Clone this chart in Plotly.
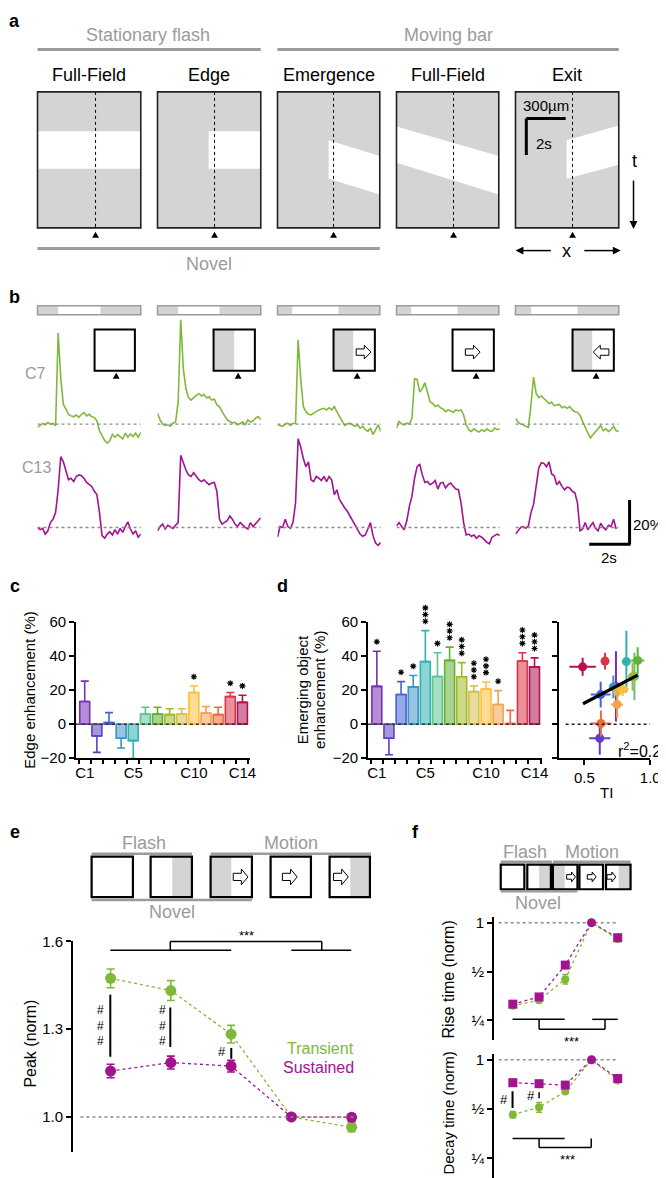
import plotly.graph_objects as go

W, H = 666, 1178
FONT = "Liberation Sans, Arial, Helvetica, sans-serif"

# ------------------------------------------------------------------ data
# panel b: calcium responses (dF/F, %) sampled every 0.125 s over 5 s
time_s = [0.0, 0.125, 0.25, 0.375, 0.5, 0.625, 0.75, 0.875, 1.0, 1.125, 1.25, 1.375,
          1.5, 1.625, 1.75, 1.875, 2.0, 2.125, 2.25, 2.375, 2.5, 2.625, 2.75, 2.875,
          3.0, 3.125, 3.25, 3.375, 3.5, 3.625, 3.75, 3.875, 4.0, 4.125, 4.25, 4.375,
          4.5, 4.625, 4.75, 4.875, 5.0]

c7_flash_full = [-1.5, -0.7, 0.3, -0.3, 0.7, 0, 0.3, -0.7, 41, 20.7, 8.9, 6.7, 4.4, 3.7, 3.3, 4.1,
                 3.0, 4.4, 5.2, 3.7, 4.4, 3.3, 3.0, 1.5, -3.0, -5.2, -7.4, -8.6, -7.4, -4.7, -5.9,
                 -4.7, -5.6, -6.7, -4.1, -5.9, -4.4, -5.6, -4.1, -5.9, -3.7]
c7_flash_edge = [4.9, 1.9, 0, -0.6, -0.3, -1.0, 0.4, 0.9, 10, 47, 24.9, 16, 11.9, 10.8, 11.9, 12.7,
                 13.8, 12.7, 13.3, 11.9, 12.3, 10.8, 11.3, 8.6, 7.9, 5.6, 3.4, 1.9, 1.2, 0.4, 0.9,
                 -0.3, 0.3, 0.9, -0.3, 1.9, 0.9, 1.5, 2.7, 3.4, 1.9]
c7_emergence = [-0.3, -0.6, -1.0, 0, 0.4, -0.6, 0.3, 0.4, 38, 20.4, 7.9, 5.6, 4.4, 4.1, 4.9, 5.6,
                6.4, 6.8, 7.1, 6.4, 7.4, 6.4, 7.9, 5.6, 3.4, 1.2, -0.6, 0, 0.4, -0.3, -1.0, -0.3,
                -1.8, -1.0, -2.5, -3.3, -1.8, -4.7, -2.5, -0.3, -3.3]
c7_moving_full = [-1.8, 1.2, 0, -0.3, 0.4, 0, 2.7, 20.4, 20.1, 14.5, 16, 18.7, 14.5, 10.1, 9.3, 7.9,
                  8.6, 7.4, 6.8, 5.6, 6.4, 5.9, 5.3, 6.4, 5.9, 6.4, 4.1, -0.3, -2.5, -3.3, -2.1,
                  -3.0, -3.6, -2.5, -3.3, -2.1, -3.0, -3.3, -1.8, -2.5, -2.1]
c7_exit = [2.7, 0.9, 0, -0.3, -1.0, -1.5, 8.6, 21.2, 13.8, 11.9, 12.7, 11.6, 10.4, 9.3, 9.8, 8.3,
           8.6, 8.9, 7.4, 7.9, 7.1, 7.9, 6.4, 5.6, 5.3, 3.9, 1.2, -1.8, -4.0, -6.2, -4.7, -3.3,
           -1.8, -0.6, -3.0, -2.1, -3.3, -2.5, -1.0, -3.0, -3.3]
c13_flash_full = [0, -1.0, -0.4, -3.0, -1.5, 2.2, 3.7, 6.7, 17, 31.9, 29.6, 25.2, 21.5, 22.2, 20.7,
                  23.0, 23.7, 23.3, 22.2, 20.3, 19.3, 18.5, 16.3, 14.8, 6.7, -3.7, -4.9, -3.0, -1.9,
                  -3.4, -1.0, -3.0, -0.4, -2.2, 0.4, 2.5, -0.7, -3.0, -1.5, -4.4, -3.0]
c13_flash_edge = [-1.5, 0.4, 1.5, -0.7, 1.0, 0.4, -0.4, 1.0, 2.2, 32.6, 28.9, 25.9, 23.7, 23.0, 24.7,
                  23.3, 21.5, 20.7, 21.5, 20.3, 19.3, 20.0, 20.3, 16.3, 3.7, 1.5, 2.2, 3.0, 5.2, 3.7,
                  1.5, 0.4, 2.2, 1.0, 0, -0.7, 2.2, 0.4, 1.5, 3.0, 4.4]
c13_emergence = [-4.4, 0.4, 0, 3.7, 0.4, -0.4, 2.2, 11.1, 40, 36.3, 31.1, 27.4, 29.6, 21.5, 20.7,
                 23.0, 22.2, 21.2, 23.0, 20.7, 23.0, 21.5, 14.8, 17, 12.6, 10.4, 8.9, 7.4, 5.2, 3.7,
                 1.5, -0.7, -3.0, -4.0, -3.4, -0.7, 2.2, -3.7, -7.0, -8.1, -6.7]
c13_moving_full = [0.7, 2.2, 0.4, -1.0, 3.0, 9.6, 14.1, 22.2, 27.4, 28.6, 23.7, 20.3, 20.7, 19.3, 20,
                   21.2, 17.3, 20, 20.3, 17.8, 19.3, 20, 18.5, 17.3, 17, 11.1, 2.2, -3.4, -3.0, -4.0,
                   -3.4, -4.9, -3.7, -4.4, -5.5, -6.7, -7.4, -4.4, -3.7, -3.0, -3.7]
c13_exit = [-3.0, -1.5, 0, 0.4, -0.4, 0.7, 6.7, 10.4, 18.5, 26.7, 29.2, 28.9, 27.4, 29.6, 24.1, 23.3,
            19.3, 20.7, 18.5, 17.0, 18.2, 17.8, 16.3, 15.6, 11.1, -1.5, -0.7, 2.2, -1.0, 0.4, 2.2,
            -0.4, -1.5, 1.9, 0, -1.0, 1.0, 0.4, 3.7, -0.7, None]

# panels c, d: per cluster
cluster_pos = [0, 1, 2, 3, 4, 5, 6, 7, 8, 9, 10, 11, 12, 13]
cluster_tick_pos = [0, 4, 9, 13]
cluster_tick_text = ["C1", "C5", "C10", "C14"]
edge_enh = [13.3, -7.0, 1.0, -8.3, -9.7, 6.0, 6.0, 5.6, 6.0, 18.6, 6.6, 5.6, 16.2, 12.8]
edge_err = [12.0, 9.6, 5.8, 5.7, 10.6, 3.9, 3.9, 3.5, 3.1, 3.8, 3.8, 4.3, 2.4, 4.2]
edge_sig = [0, 0, 0, 0, 0, 0, 0, 0, 0, 1, 0, 0, 1, 1]
emerg_enh = [22.2, -8.3, 17.4, 21.9, 36.8, 28.0, 37.5, 27.9, 19.1, 20.7, 11.6, 0.4, 37.1, 33.7]
emerg_err = [20.7, 9.7, 7.6, 6.7, 18.2, 14.0, 7.8, 8.3, 3.3, 4.1, 8.1, 7.7, 4.9, 5.3]
emerg_sig = [1, 0, 1, 1, 3, 1, 3, 3, 3, 3, 1, 0, 3, 3]
ti_mean = [0.74, 0.617, 0.624, 0.72, 0.819, 0.88, 0.905, 0.866, 0.752, 0.791, 0.749, 0.626, 0.657, 0.487]
ti_err = [0.02, 0.08, 0.075, 0.03, 0.03, 0.03, 0.05, 0.03, 0.02, 0.045, 0.045, 0.08, 0.03, 0.1]
fit_ti = [0.49, 0.905]
fit_enh = [12.0, 28.8]
r2_text = "r<sup>2</sup>=0.2"

# panels e, f: five stimulus conditions
stim_pos = [0, 1, 2, 3, 4]
peak_trans = [1.474, 1.432, 1.283, 1.0, 0.965]
peak_trans_err = [0.032, 0.034, 0.03, 0.0, 0.015]
peak_sus = [1.157, 1.186, 1.174, 1.0, 0.999]
peak_sus_err = [0.023, 0.022, 0.02, 0.0, 0.012]
rise_trans = [0.308, 0.333, 0.449, 1.0, 0.794]
rise_trans_err = [0.01, 0.01, 0.03, 0.0, 0.01]
rise_sus = [0.315, 0.349, 0.548, 1.0, 0.808]
rise_sus_err = [0.012, 0.01, 0.02, 0.0, 0.015]
decay_trans = [0.462, 0.512, 0.639, 1.0, 0.747]
decay_trans_err = [0.02, 0.035, 0.015, 0.0, 0.01]
decay_sus = [0.724, 0.714, 0.70, 1.0, 0.768]
decay_sus_err = [0.015, 0.02, 0.015, 0.0, 0.01]
log_ticks = [0.25, 0.5, 1]
log_tick_text = ["¼", "½", "1"]

# ------------------------------------------------------------------ style
GREEN = "#80b93a"
MAGENTA = "#a3138f"
GRAYTXT = "#9b9b9b"
STIM = "#d4d4d4"
cluster_colors = ["#7a2fb0", "#5e3fc3", "#4462d6", "#3f93c9", "#2fb3b0", "#5cc48e", "#63b133",
                  "#a3b92c", "#d4c04a", "#fdbf3a", "#f6a04d", "#ef6a3f", "#d8354a", "#b3124f"]


def rgba(hx, a):
    hx = hx.lstrip("#")
    return "rgba(%d,%d,%d,%.2f)" % (int(hx[0:2], 16), int(hx[2:4], 16), int(hx[4:6], 16), a)


def px(x):
    return x / W


def py(y):
    return 1 - y / H


def xdom(l, r):
    return [l / W, r / W]


def ydom(top, bottom):
    return [max(0.0, 1 - bottom / H), 1 - top / H]


shapes, ann = [], []


def rect(x0, y0, x1, y1, fill="rgba(0,0,0,0)", lc="rgba(0,0,0,0)", lw=0):
    shapes.append(dict(type="rect", xref="paper", yref="paper", x0=px(x0), x1=px(x1),
                       y0=py(y1), y1=py(y0), fillcolor=fill, line=dict(color=lc, width=lw)))


def seg(x0, y0, x1, y1, color="black", width=1.5, dash="solid"):
    shapes.append(dict(type="line", xref="paper", yref="paper", x0=px(x0), y0=py(y0),
                       x1=px(x1), y1=py(y1), line=dict(color=color, width=width, dash=dash)))


def poly(pts, fill, lc="rgba(0,0,0,0)", lw=0):
    d = "M " + " L ".join("%.5f,%.5f" % (px(x), py(y)) for x, y in pts) + " Z"
    shapes.append(dict(type="path", xref="paper", yref="paper", path=d, fillcolor=fill,
                       line=dict(color=lc, width=lw)))


def text(x, y, s, size=15, color="black", anchor="center", angle=0):
    ann.append(dict(xref="paper", yref="paper", x=px(x), y=py(y), text=s, showarrow=False,
                    xanchor=anchor, yanchor="middle", textangle=angle,
                    font=dict(family=FONT, size=size, color=color)))


def tri(cx, ytop, w=7, h=6):
    poly([(cx - w / 2, ytop + h), (cx + w / 2, ytop + h), (cx, ytop)], "black")


def block_arrow(x0, x1, cy, h, direction="right", lw=1):
    hh, hs = h / 2, h * 0.23
    hl = (x1 - x0) * 0.45
    if direction == "right":
        xm = x1 - hl
        pts = [(x0, cy - hs), (xm, cy - hs), (xm, cy - hh), (x1, cy), (xm, cy + hh), (xm, cy + hs), (x0, cy + hs)]
    else:
        xm = x0 + hl
        pts = [(x1, cy - hs), (xm, cy - hs), (xm, cy - hh), (x0, cy), (xm, cy + hh), (xm, cy + hs), (x1, cy + hs)]
    poly(pts, "white", "black", lw)


fig = go.Figure()
layout = dict(width=W, height=H, margin=dict(l=0, r=0, t=0, b=0), paper_bgcolor="white",
              plot_bgcolor="rgba(0,0,0,0)", showlegend=False, barmode="overlay",
              font=dict(family=FONT, size=15, color="black"))


def an(n):
    return "" if n == 1 else str(n)


def axes(n, xd, yd, xkw, ykw):
    layout["xaxis" + an(n)] = dict(domain=xd, anchor="y" + an(n), **xkw)
    layout["yaxis" + an(n)] = dict(domain=yd, anchor="x" + an(n), **ykw)


AX = dict(showline=True, linecolor="black", linewidth=1.6, ticks="outside", ticklen=5,
          tickwidth=1.6, tickcolor="black", showgrid=False, zeroline=False,
          tickfont=dict(family=FONT, size=15, color="black"), fixedrange=True)
HIDDEN = dict(visible=False, showgrid=False, zeroline=False, fixedrange=True)

# panel labels
for lab, x, y in [("a", 6, 4), ("b", 6, 284), ("c", 6, 577), ("d", 278, 577), ("e", 6, 827), ("f", 413, 827)]:
    text(x, y, "<b>%s</b>" % lab, size=18)

# ------------------------------------------------------------------ panel a
text(141, 18, "Stationary flash", 18, GRAYTXT)
text(447, 18, "Moving bar", 18, GRAYTXT)
seg(29, 33, 256, 33, "#9b9b9b", 3)
seg(273, 33, 620, 33, "#9b9b9b", 3)
a_titles = ["Full-Field", "Edge", "Emergence", "Full-Field", "Exit"]
a_boxes = [(29, 134), (151, 256), (273, 377), (394, 498), (515, 620)]
a_mid = [88, 209, 330, 452, 573]
for (x0, x1), ttl in zip(a_boxes, a_titles):
    text((x0 + x1) / 2, 59, ttl, 18)
    rect(x0, 76, x1, 214, fill=STIM)
rect(29, 116, 134, 154, fill="white")
rect(203, 116, 256, 154, fill="white")
poly([(325, 125), (377, 141), (377, 180), (325, 164)], "white")
poly([(394, 111), (498, 141), (498, 180), (394, 148)], "white")
poly([(567, 125), (620, 110), (620, 150), (567, 164)], "white")
for (x0, x1), m in zip(a_boxes, a_mid):
    seg(m, 76, m, 214, "black", 1, "dot")
    rect(x0, 76, x1, 214, lc="#222222", lw=1.6)
    tri(m, 218)
seg(526, 103, 566, 103, "black", 3)
seg(526, 103, 526, 140, "black", 3)
text(546, 90, "300µm", 15)
text(544, 128, "2s", 15)
text(636, 146, "t", 18)
# t arrow (down) and x arrows (left / right)
seg(635, 166, 635, 208, "black", 1.5)
poly([(631, 207), (639, 207), (635, 215)], "black")
seg(522, 237, 551, 237, "black", 1.5)
poly([(515, 237), (523, 233), (523, 241)], "black")
seg(585, 237, 615, 237, "black", 1.5)
poly([(622, 237), (614, 233), (614, 241)], "black")
text(567, 237, "x", 18)
seg(29, 235, 377, 235, "#9b9b9b", 3)
text(203, 251, "Novel", 18, GRAYTXT)

# ------------------------------------------------------------------ panel b
b_white = [(50, 93), (172, 214), (288, 335), (409, 456), (531, 578)]
for (x0, x1), (w0, w1) in zip(a_boxes, b_white):
    rect(x0, 293, x1, 302, fill=STIM)
    rect(w0, 293, w1, 302, fill="white")
    rect(x0, 293, x1, 302, lc="#9b9b9b", lw=1.5)
insets = [(87, 128), (208, 250), (330, 372), (451, 493), (573, 615)]
inset_gray = [None, (208, 229), (330, 350), None, (573, 593)]
inset_arrow = [None, None, (353, 368, "right"), (464, 479, "right"), (594, 610, "left")]
inset_tri = [109, 233, 354, 475, 597]
for (x0, x1), g, a, tx in zip(insets, inset_gray, inset_arrow, inset_tri):
    rect(x0, 317, x1, 359, fill="white")
    if g:
        rect(g[0], 317, g[1], 359, fill=STIM)
    if a:
        block_arrow(a[0], a[1], 340, 14, a[2])
    rect(x0, 317, x1, 359, lc="black", lw=2)
    tri(tx, 361)
text(27, 362, "C7", 16, GRAYTXT)
text(28, 457, "C13", 16, GRAYTXT)

c7_rows = [c7_flash_full, c7_flash_edge, c7_emergence, c7_moving_full, c7_exit]
c13_rows = [c13_flash_full, c13_flash_edge, c13_emergence, c13_moving_full, c13_exit]
for j, x0 in enumerate([29, 151, 273, 394, 515]):
    for r, (rows, col, ytop, ybot, yr) in enumerate([
            (c7_rows, GREEN, 300, 450, [-16.4, 50.2]),
            (c13_rows, MAGENTA, 425, 560, [-18.7, 41.3])]):
        n = 1 + r * 5 + j
        axes(n, xdom(x0, x0 + 105), ydom(ytop, ybot), dict(HIDDEN, range=[0, 5]), dict(HIDDEN, range=yr))
        shapes.append(dict(type="line", xref="x" + an(n), yref="y" + an(n), x0=0, x1=5, y0=0, y1=0,
                           line=dict(color="#8c8c8c", width=1.4, dash="dot")))
        fig.add_trace(go.Scatter(x=time_s, y=rows[j], mode="lines", line=dict(color=col, width=1.6),
                                 xaxis="x" + an(n), yaxis="y" + an(n), hoverinfo="skip"))
seg(631, 490, 631, 535, "black", 3)
seg(590, 535, 632, 535, "black", 3)
text(650, 515, "20%", 15)
text(610, 548, "2s", 15)

# ------------------------------------------------------------------ panels c, d (bars)
UNIT_PX = 138 / 80.0   # pixels per % on the c/d value axes (for star offsets)
minor_ticks = [-0.5, 0.5, 1.5, 2.5, 3.5, 4.5, 5.5, 6.5, 7.5, 8.5, 9.5, 10.5, 11.5, 12.5, 13.5]
for n, ns, xl, vals, errs, sigs in [(11, 17, 68, edge_enh, edge_err, edge_sig),
                                    (12, 18, 365, emerg_enh, emerg_err, emerg_sig)]:
    xa = dict(AX, range=[-0.73, 13.62], tickmode="array", tickvals=cluster_tick_pos,
              ticktext=cluster_tick_text, ticks="",
              minor=dict(tickmode="array", tickvals=minor_ticks, ticks="outside", ticklen=4,
                         tickwidth=1.5, tickcolor="black"))
    ya = dict(AX, range=[-20, 60], tickmode="array", tickvals=[-20, 0, 20, 40, 60])
    axes(n, xdom(xl, xl + 177), ydom(614, 752), xa, ya)
    # taller hidden overlay (same scale) so significance stars above 60 are not clipped
    axes(ns, xdom(xl, xl + 177), ydom(560, 752), dict(HIDDEN, range=[-0.73, 13.62]),
         dict(HIDDEN, range=[-20, 60 + (614 - 560) / UNIT_PX]))
    shapes.append(dict(type="line", xref="x" + an(n), yref="y" + an(n), x0=-0.73, x1=13.62, y0=0, y1=0,
                       line=dict(color="#333333", width=1.5, dash="dot")))
    sx, sy = [], []
    for i, v, e, s, c in zip(cluster_pos, vals, errs, sigs, cluster_colors):
        pos = v >= 0
        fig.add_trace(go.Bar(x=[i], y=[v], width=0.82, marker=dict(color=rgba(c, 0.55), line=dict(color=c, width=1.6)),
                             error_y=dict(type="data", symmetric=False, array=[e if pos else 0],
                                          arrayminus=[0 if pos else e], color=c, thickness=1.6, width=4),
                             xaxis="x" + an(n), yaxis="y" + an(n), hoverinfo="skip"))
        for k in range(s):
            sx.append(i)
            sy.append(v + e + (9.5 + 6.8 * k) / UNIT_PX)
    fig.add_trace(go.Scatter(x=sx, y=sy, mode="markers",
                             marker=dict(symbol="asterisk-open", size=5, color="black",
                                         line=dict(color="black", width=1.1)),
                             xaxis="x" + an(ns), yaxis="y" + an(ns), hoverinfo="skip", cliponaxis=False))
text(20, 683, "Edge enhancement (%)", 15, angle=-90)
text(298, 683, "Emerging object", 15, angle=-90)
text(315, 683, "enhancement (%)", 15, angle=-90)

# ------------------------------------------------------------------ panel d (scatter)
axes(13, xdom(559, 652), ydom(614, 752),
     dict(AX, range=[0.306, 1.0], tickmode="array", tickvals=[0.5, 1.0], ticktext=["0.5", "1.0"]),
     dict(AX, range=[-20, 60], tickmode="array", tickvals=[-20, 0, 20, 40, 60], showticklabels=False))
shapes.append(dict(type="line", xref="x13", yref="y13", x0=0.358, x1=1.0, y0=0, y1=0,
                   line=dict(color="#222222", width=1.5, dash="dot")))
for xv, xe, yv, ye, c in zip(ti_mean, ti_err, emerg_enh, emerg_err, cluster_colors):
    fig.add_trace(go.Scatter(x=[xv], y=[yv], mode="markers", marker=dict(color=c, size=9),
                             error_x=dict(type="data", array=[xe], color=c, thickness=2, width=0),
                             error_y=dict(type="data", array=[ye], color=c, thickness=2, width=0),
                             xaxis="x13", yaxis="y13", hoverinfo="skip", cliponaxis=False))
fig.add_trace(go.Scatter(x=fit_ti, y=fit_enh, mode="lines", line=dict(color="black", width=3.2),
                         xaxis="x13", yaxis="y13", hoverinfo="skip"))
text(641, 744, r2_text, 16)
text(608, 787, "TI", 15)

# ------------------------------------------------------------------ stimulus icons for e and f
def icon_row(boxes, ytop, ybot, gray_r2, gray_l3, gray_r5, arrows, ah, lw,
             flash, motion, novel, hdr_y, line_y, novel_y, novel_txt_y, fs):
    for (x0, x1) in boxes:
        rect(x0, ytop, x1, ybot, fill="white")
    rect(gray_r2[0], ytop, gray_r2[1], ybot, fill=STIM)
    rect(gray_l3[0], ytop, gray_l3[1], ybot, fill=STIM)
    rect(gray_r5[0], ytop, gray_r5[1], ybot, fill=STIM)
    for a0, a1 in arrows:
        block_arrow(a0, a1, (ytop + ybot) / 2, ah, "right")
    for (x0, x1) in boxes:
        rect(x0, ytop, x1, ybot, lc="black", lw=lw)
    text(flash[2], hdr_y, "Flash", fs, GRAYTXT)
    seg(flash[0], line_y, flash[1], line_y, "#9b9b9b", 2.5)
    text(motion[2], hdr_y, "Motion", fs, GRAYTXT)
    seg(motion[0], line_y, motion[1], line_y, "#9b9b9b", 2.5)
    seg(novel[0], novel_y, novel[1], novel_y, "#9b9b9b", 2.5)
    text(novel[2], novel_txt_y, "Novel", fs, GRAYTXT)


icon_row([(84, 126), (144, 186), (205, 247), (266, 307), (326, 367)], 852, 893,
         (166, 186), (205, 226), (347, 367), [(228, 243), (278, 293), (330, 345)], 16, 2.2,
         (84, 186, 137), (205, 368, 287), (84, 247, 166), 838, 849, 896, 908, 18)
icon_row([(500, 524), (527, 551), (553, 578), (580, 604), (607, 632)], 860, 885,
         (539, 551), (553, 565), (620, 632), [(567, 576), (588, 597), (608, 617)], 10, 2.2,
         (500, 552, 525), (553, 632, 593), (500, 578, 538), 847, 857, 887, 899, 18)

# ------------------------------------------------------------------ panel e
axes(14, xdom(65, 360), ydom(938, 1152), dict(HIDDEN, range=[-0.625, 4.19]),
     dict(AX, range=[0.879, 1.6], tickmode="array", tickvals=[1.0, 1.3, 1.6], ticktext=["1.0", "1.3", "1.6"]))
shapes.append(dict(type="line", xref="x14", yref="y14", x0=-0.5, x1=4.08, y0=1, y1=1,
                   line=dict(color="#8c8c8c", width=1.4, dash="dot")))
for yv, ye, c in [(peak_trans, peak_trans_err, GREEN), (peak_sus, peak_sus_err, MAGENTA)]:
    fig.add_trace(go.Scatter(x=stim_pos, y=yv, mode="lines+markers",
                             line=dict(color=c, width=1.3, dash="dot"), marker=dict(color=c, size=11),
                             error_y=dict(type="data", array=ye, color=c, thickness=1.6, width=4),
                             xaxis="x14", yaxis="y14", hoverinfo="skip", cliponaxis=False))
# significance marks
seg(164, 938, 318, 938); seg(164, 938, 164, 947); seg(318, 938, 318, 947)
seg(103, 947, 226, 947); seg(287, 947, 348, 947)
text(241, 932, "***", 13)
seg(103, 992, 103, 1055, width=2); seg(164, 1005, 164, 1045, width=2); seg(226, 1046, 226, 1057, width=2)
text(93, 1023, "#<br>#<br>#", 12)
text(156, 1023, "#<br>#<br>#", 12)
text(217, 1050, "#", 13)
text(353, 1047, "Transient", 16, GREEN, anchor="right")
text(353, 1066, "Sustained", 16, MAGENTA, anchor="right")
text(22, 1042, "Peak (norm)", 16, angle=-90)

# ------------------------------------------------------------------ panel f
LOGR = [-0.7225, 0.0361]
for n, yt, yb, ttl, ty, series in [
        (15, 913, 1038, "Rise time (norm)", 977,
         [(rise_trans, rise_trans_err, GREEN, "circle", 8), (rise_sus, rise_sus_err, MAGENTA, "square", 9)]),
        (16, 1052, 1178, "Decay time (norm)", 1112,
         [(decay_trans, decay_trans_err, GREEN, "circle", 8), (decay_sus, decay_sus_err, MAGENTA, "square", 9)])]:
    axes(n, xdom(493, 632), ydom(yt, yb), dict(HIDDEN, range=[-0.724, 4.49]),
         dict(AX, type="log", range=LOGR, tickmode="array", tickvals=log_ticks, ticktext=log_tick_text))
    fig.add_trace(go.Scatter(x=[-0.54, 3.96], y=[1, 1], mode="lines",
                             line=dict(color="#8c8c8c", width=1.4, dash="dot"),
                             xaxis="x" + an(n), yaxis="y" + an(n), hoverinfo="skip"))
    for yv, ye, c, sym, sz in series:
        syms = [sym, sym, sym, "circle", sym]
        fig.add_trace(go.Scatter(x=stim_pos, y=yv, mode="lines+markers",
                                 line=dict(color=c, width=1.3, dash="dot"),
                                 marker=dict(color=c, size=sz, symbol=syms),
                                 error_y=dict(type="data", array=ye, color=c, thickness=1.5, width=3),
                                 xaxis="x" + an(n), yaxis="y" + an(n), hoverinfo="skip", cliponaxis=False))
    text(447, ty, ttl, 15 if n == 16 else 16, angle=-90)
# rise brackets
seg(512, 1017, 565, 1017); seg(593, 1017, 619, 1017)
seg(539, 1017, 539, 1027); seg(606, 1017, 606, 1027); seg(539, 1027, 606, 1027)
text(572, 1039, "***", 13)
# decay brackets
seg(512, 1138, 565, 1138); seg(539, 1138, 539, 1147); seg(539, 1147, 592, 1147); seg(592, 1147, 592, 1138)
text(568, 1159, "***", 13)
seg(512, 1090, 512, 1107, width=2); seg(539, 1091, 539, 1097, width=1.5)
text(503, 1098, "#", 13)
text(531, 1094, "#", 13)

layout["shapes"] = shapes
layout["annotations"] = ann
fig.update_layout(layout)
fig.write_html("out.html")
